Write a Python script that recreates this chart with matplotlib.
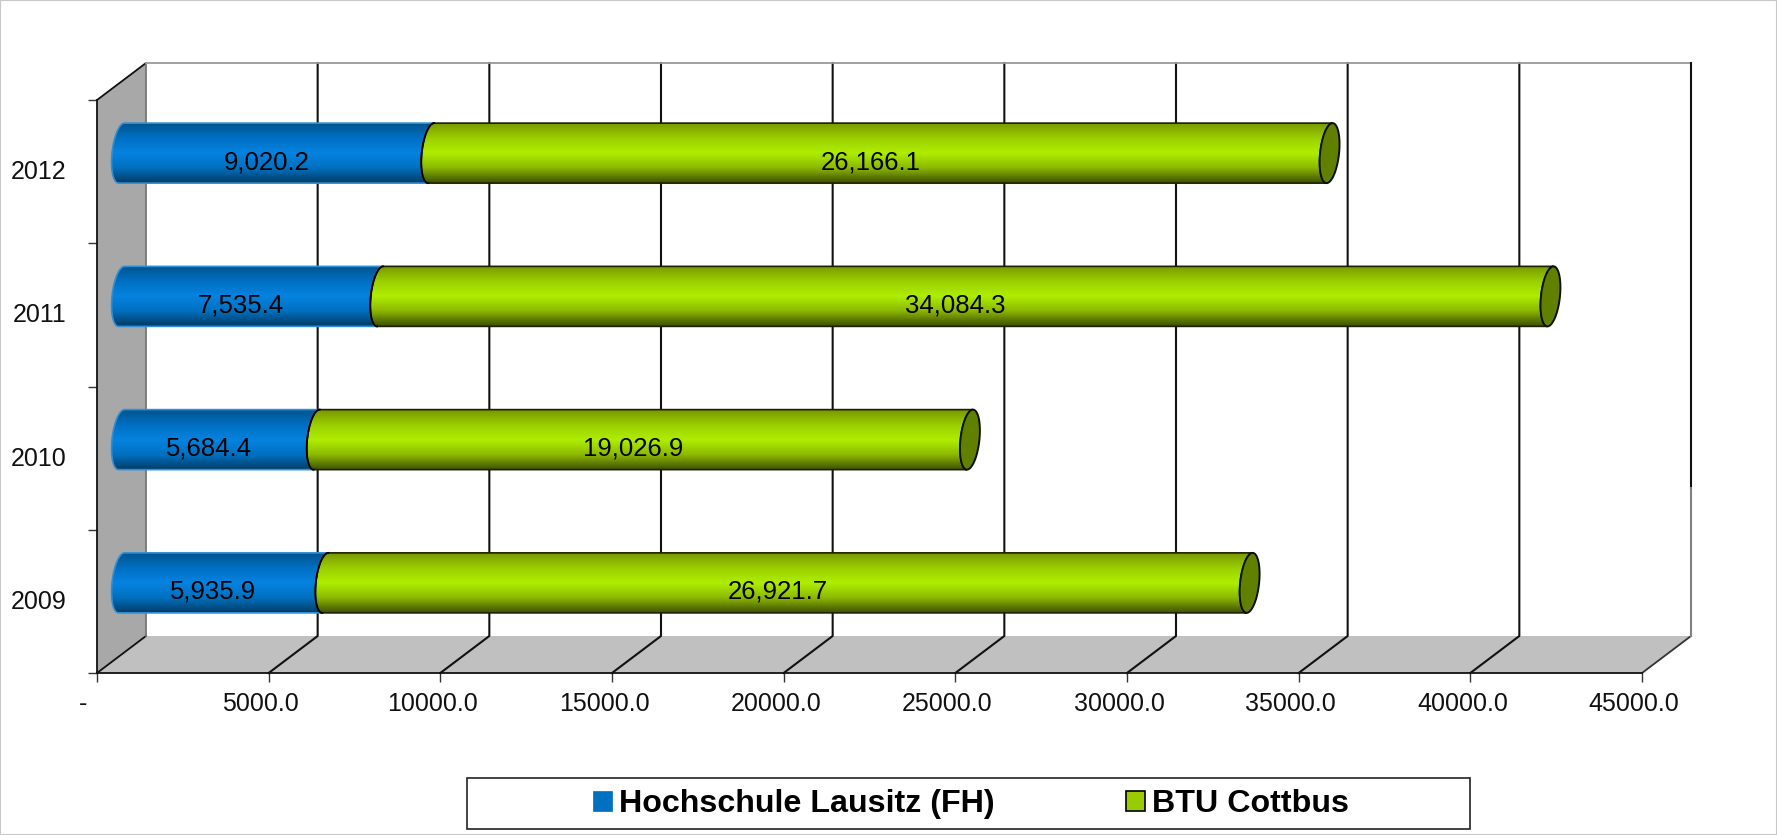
import numpy as np
import matplotlib
matplotlib.use('Agg')
import matplotlib.pyplot as plt
from matplotlib.colors import LinearSegmentedColormap
from matplotlib.patches import Patch, PathPatch, Polygon, Rectangle
from matplotlib.path import Path
from matplotlib.transforms import ScaledTranslation

plt.rcParams['font.family'] = ['Liberation Sans', 'DejaVu Sans']

# data
years = ['2009', '2010', '2011', '2012']
hs_lausitz = [5935.9, 5684.4, 7535.4, 9020.2]
btu_cottbus = [26921.7, 19026.9, 34084.3, 26166.1]
series_names = ['Hochschule Lausitz (FH)', 'BTU Cottbus']
x_ticks = [0, 5000, 10000, 15000, 20000, 25000, 30000, 35000, 40000, 45000]
x_tick_labels = ['-', '5000.0', '10000.0', '15000.0', '20000.0', '25000.0',
                 '30000.0', '35000.0', '40000.0', '45000.0']

W, H = 1777, 835
fig = plt.figure(figsize=(W / 100, H / 100), dpi=100)
ax = fig.add_axes([97 / W, 1 - 673 / H, (1642 - 97) / W, (673 - 100) / H])
ax.patch.set_visible(False)

# size of one pixel in data units
px_x = 45000 / (1642 - 97)
px_y = 4 / (673 - 100)
depth_x = 49 * px_x
depth_y = 37 * px_y
y_bottom, y_top = -0.5, 3.5
x_max = x_ticks[-1]
bar_half = 30 * px_y
cap_a = 9.5 * px_x
cap_s = 3 * px_x

# walls
ax.add_patch(Polygon([(0, y_bottom), (depth_x, y_bottom + depth_y),
                      (depth_x, y_top + depth_y), (0, y_top)],
                     fc='#a8a8a8', ec='none', zorder=1, clip_on=False))
ax.add_patch(Polygon([(0, y_bottom), (depth_x, y_bottom + depth_y),
                      (x_max + depth_x, y_bottom + depth_y), (x_max, y_bottom)],
                     fc='#c0c0c0', ec='none', zorder=1, clip_on=False))

# gridlines back wall + floor
for t in x_ticks[1:-1]:
    ax.plot([t, t + depth_x, t + depth_x],
            [y_bottom, y_bottom + depth_y, y_top + depth_y],
            color='#111111', lw=1.5, zorder=2, clip_on=False)
ax.plot([0, depth_x], [y_bottom, y_bottom + depth_y], color='#111111', lw=1.3, zorder=2, clip_on=False)
ax.plot([0, depth_x], [y_top, y_top + depth_y], color='#111111', lw=1.3, zorder=2, clip_on=False)
ax.plot([x_max, x_max + depth_x], [y_bottom, y_bottom + depth_y], color='#333333', lw=1.3, zorder=2, clip_on=False)
ax.plot([depth_x, depth_x], [y_bottom + depth_y, y_top + depth_y], color='#777777', lw=1.3, zorder=2, clip_on=False)
ax.plot([depth_x, x_max + depth_x], [y_top + depth_y, y_top + depth_y], color='#999999', lw=1.3, zorder=2, clip_on=False)
ax.plot([x_max + depth_x, x_max + depth_x], [y_top + depth_y, y_top + depth_y - 2.97],
        color='#111111', lw=1.5, zorder=2, clip_on=False)
ax.plot([x_max + depth_x, x_max + depth_x], [y_top + depth_y - 2.97, y_bottom + depth_y],
        color='#808080', lw=1.5, zorder=2, clip_on=False)

blue_cmap = LinearSegmentedColormap.from_list('blue', ['#00558f', '#0070c4', '#0583e0', '#0070c0', '#003d66'])
green_cmap = LinearSegmentedColormap.from_list('green', ['#7a9a00', '#9ccf00', '#aeee00', '#8cb800', '#3f5200'])


def cap_points(cx, cy, start, stop, n=40):
    t = np.linspace(start, stop, n)
    return np.column_stack([cx + cap_a * np.cos(t) + cap_s * np.sin(t), cy + bar_half * np.sin(t)])


def draw_segment(x0, x1, cy, cmap, edge):
    # left half of the start ellipse, then left half of the end ellipse
    left = cap_points(x0, cy, -np.pi / 2, -3 * np.pi / 2)
    right = cap_points(x1, cy, np.pi / 2, 3 * np.pi / 2)
    verts = np.vstack([left, right, left[:1]])
    patch = PathPatch(Path(verts), fc='none', ec=edge, lw=1.2, zorder=4, clip_on=False)
    ax.add_patch(patch)
    grad = np.linspace(0, 1, 64).reshape(-1, 1)
    im = ax.imshow(grad, cmap=cmap, aspect='auto', origin='lower', zorder=3,
                   extent=[x0 - 2 * cap_a, x1 + 2 * cap_a, cy + bar_half, cy - bar_half])
    im.set_clip_path(patch)


label_shift = ScaledTranslation(-10 / 100, -9 / 100, fig.dpi_scale_trans)
for i, year in enumerate(years):
    start = depth_x / 2
    cy = i + depth_y / 2
    a = start + hs_lausitz[i]
    b = a + btu_cottbus[i]
    draw_segment(start, a, cy, blue_cmap, '#2f8fd6')
    draw_segment(a, b, cy, green_cmap, '#1a2200')
    cap = cap_points(b, cy, 0, 2 * np.pi, 80)
    ax.add_patch(Polygon(cap, fc='#618000', ec='#0a0f00', lw=1.4, zorder=5, clip_on=False))
    ax.plot(*cap_points(a, cy, np.pi / 2, 3 * np.pi / 2).T, color='black', lw=1.3, zorder=5, clip_on=False)
    ax.text((start + a) / 2, cy, f'{hs_lausitz[i]:,.1f}', ha='center', va='center', fontsize=18.5,
            color='#000000', zorder=6, transform=ax.transData + label_shift)
    ax.text((a + b) / 2, cy, f'{btu_cottbus[i]:,.1f}', ha='center', va='center', fontsize=18.5,
            color='#000000', zorder=6, transform=ax.transData + label_shift)

ax.set_xlim(0, x_max)
ax.set_ylim(y_bottom, y_top)

# axes
for side in ['top', 'right']:
    ax.spines[side].set_visible(False)
for side in ['left', 'bottom']:
    ax.spines[side].set_color('#111111')
    ax.spines[side].set_linewidth(1.3)
    ax.spines[side].set_zorder(2.5)
ax.set_xticks(x_ticks)
ax.set_xticklabels(x_tick_labels, fontsize=18, color='#111111')
ax.tick_params(axis='x', length=6.5, width=1, pad=7, color='#333333')
ax.set_yticks(np.arange(-0.5, 4, 1))
ax.set_yticklabels([])
ax.tick_params(axis='y', which='major', length=6.5, width=1, color='#333333')
ax.set_yticks(range(len(years)), minor=True)
ax.set_yticklabels(years, minor=True, fontsize=18, color='#111111')
ax.tick_params(axis='y', which='minor', length=0, pad=22)
for i, lab in enumerate(ax.get_xticklabels()):
    shift = -14 if i == 0 else -8
    lab.set_transform(lab.get_transform() + ScaledTranslation(shift / 100, 0, fig.dpi_scale_trans))
for lab in ax.get_yticklabels(minor=True):
    lab.set_transform(lab.get_transform() + ScaledTranslation(0, 2 / 100, fig.dpi_scale_trans))

# legend box
fig.add_artist(Rectangle((467 / W, 1 - 829 / H), (1470 - 467) / W, 51 / H, transform=fig.transFigure,
                         fc='white', ec='#222222', lw=1.2))
handles = [Patch(fc='#0070c0', ec='#0070c0', lw=0.5), Patch(fc='#99cc00', ec='black', lw=1.2)]
fig.legend(handles, series_names, loc='center', bbox_to_anchor=(971 / W, 1 - 804 / H), ncol=2, frameon=False,
           prop={'weight': 'bold', 'size': 23.2}, handlelength=0.58, handleheight=0.58,
           handletextpad=0.2, columnspacing=4.1, borderpad=0)

# outer frame
fig.add_artist(Rectangle((0, 0), 1, 1, transform=fig.transFigure, fc='none', ec='#c8c8c8', lw=1.5))

fig.savefig('out.png', dpi=100)
